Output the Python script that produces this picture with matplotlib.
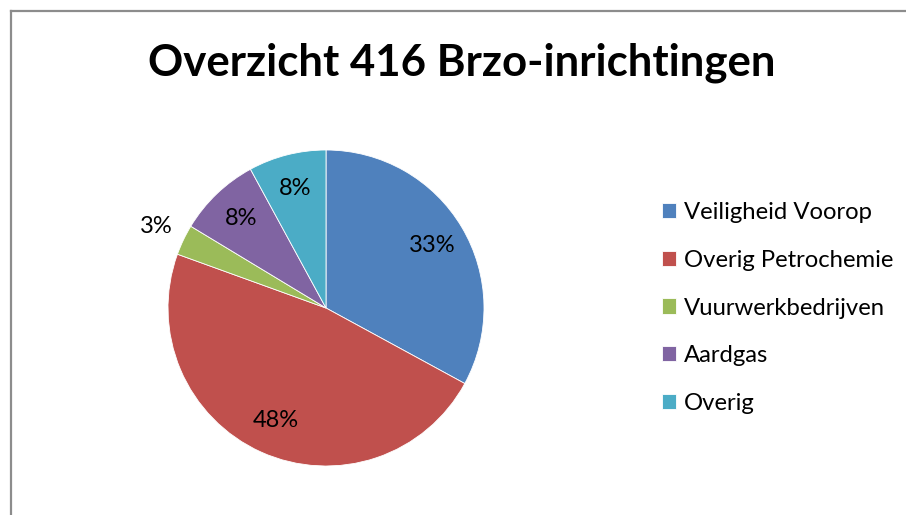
import matplotlib
matplotlib.use("Agg")
import matplotlib.pyplot as plt
from matplotlib.lines import Line2D

categories = ["Veiligheid Voorop", "Overig Petrochemie", "Vuurwerkbedrijven", "Aardgas", "Overig"]
counts = [137, 198, 13, 35, 33]
colors = ["#4F81BD", "#C0504D", "#9BBB59", "#8064A2", "#4BACC6"]

plt.rcParams['font.family'] = ['Lato', 'DejaVu Sans']

W, H = 906, 515
fig = plt.figure(figsize=(W / 100, H / 100), dpi=100)

# chart-area border (only left and top visible in the crop)
fig.add_artist(Line2D([11 / W, 11 / W], [0, 1 - 11 / H], color='#8c8c8c', linewidth=1.6))
fig.add_artist(Line2D([11 / W, 1], [1 - 11 / H, 1 - 11 / H], color='#8c8c8c', linewidth=1.6))

fig.text(462 / W, 1 - 63 / H, 'Overzicht 416 Brzo-inrichtingen', ha='center', va='center',
         fontsize=31.5, fontweight='bold')

cx, cy, r = 326, 308, 158
ax = fig.add_axes([(cx - r) / W, (H - cy - r) / H, 2 * r / W, 2 * r / H])
wedges, texts, autotexts = ax.pie(counts, colors=colors, startangle=90, counterclock=False,
                                  autopct=lambda p: '%d%%' % round(p), pctdistance=0.78,
                                  wedgeprops=dict(edgecolor='white', linewidth=0.6),
                                  textprops=dict(fontsize=17, color='black'))
# small slice label goes outside
x, y = autotexts[2].get_position()
autotexts[2].set_position((x / 0.78 * 1.19, y / 0.78 * 1.19))
ax.set_xlim(-1, 1)
ax.set_ylim(-1, 1)
ax.set_aspect('equal')

fig.legend(wedges, categories, loc='center left', bbox_to_anchor=(640 / W, 1 - 308 / H),
           frameon=False, fontsize=17.2, handlelength=0.6, handleheight=0.6,
           handletextpad=0.35, labelspacing=1.12)

fig.savefig('out.png', dpi=100)
